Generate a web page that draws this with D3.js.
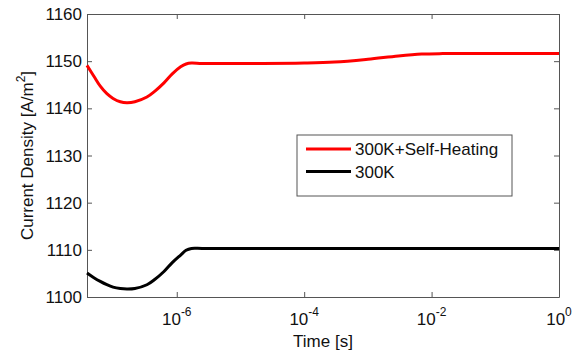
<!DOCTYPE html>
<html>
<head>
<meta charset="utf-8">
<script src="https://cdn.jsdelivr.net/npm/d3@7"></script>
<style>
  body { margin: 0; background: #fff; }
  text { font-family: "Liberation Sans", Arial, sans-serif; fill: #111; }
</style>
</head>
<body>
<div id="chart"></div>
<script>
// ---- data ----
var timeTicks = [1e-6, 1e-4, 1e-2, 1e0];
var tickExponents = ["-6", "-4", "-2", "0"];
var yTicks = [1100, 1110, 1120, 1130, 1140, 1150, 1160];

var seriesNames = ["300K+Self-Heating", "300K"];
var seriesColors = ["#ff0000", "#000000"];

var heatTime = [3.9e-8, 5e-8, 6.3e-8, 8e-8, 1e-7, 1.3e-7, 1.65e-7, 2.2e-7, 3.4e-7, 4.5e-7, 6.3e-7, 8.5e-7, 1.15e-6, 1.4e-6, 1.7e-6, 2.5e-6, 1e-5, 1e-4, 3e-4, 1e-3, 3e-3, 7e-3, 1.5e-2, 1e-1, 1];
var heatJ    = [1149.1, 1146.8, 1144.7, 1143.1, 1142.1, 1141.4, 1141.2, 1141.4, 1142.4, 1143.6, 1145.4, 1147.3, 1148.8, 1149.4, 1149.6, 1149.5, 1149.5, 1149.6, 1149.8, 1150.4, 1151.1, 1151.5, 1151.6, 1151.6, 1151.6];

var coldTime = [3.9e-8, 5e-8, 6.3e-8, 8e-8, 1e-7, 1.3e-7, 1.65e-7, 2.2e-7, 3.4e-7, 4.5e-7, 6.3e-7, 8.5e-7, 1.15e-6, 1.4e-6, 1.7e-6, 2.5e-6, 1e-5, 1e-3, 1];
var coldJ    = [1105.1, 1104.1, 1103.3, 1102.6, 1102.1, 1101.8, 1101.7, 1101.8, 1102.6, 1103.7, 1105.4, 1107.3, 1108.9, 1109.9, 1110.3, 1110.3, 1110.3, 1110.3, 1110.3];

// ---- layout ----
var svgWidth = 581, svgHeight = 352;
var margin = { top: 14, right: 22, bottom: 55, left: 87 };
var plotWidth = svgWidth - margin.left - margin.right;
var plotHeight = svgHeight - margin.top - margin.bottom;
var frameColor = "#555";

var svg = d3.select("#chart").append("svg")
  .attr("width", svgWidth)
  .attr("height", svgHeight);

var chartGroup = svg.append("g")
  .attr("transform", `translate(${margin.left}, ${margin.top})`);

var xScale = d3.scaleLog().domain([3.9e-8, 1]).range([0, plotWidth]);
var yScale = d3.scaleLinear().domain([1100, 1160]).range([plotHeight, 0]);

// frame with inward ticks on all four sides
function drawAxis(axis, transform) {
  var g = chartGroup.append("g").attr("transform", transform).call(axis);
  g.selectAll("path").attr("stroke", frameColor);
  g.selectAll("line").attr("stroke", frameColor);
  g.selectAll("text").remove();
  return g;
}
drawAxis(d3.axisBottom(xScale).tickValues(timeTicks).tickSize(-5).tickSizeOuter(0), `translate(0, ${plotHeight})`);
drawAxis(d3.axisTop(xScale).tickValues(timeTicks).tickSize(-5).tickSizeOuter(0), "translate(0, 0)");
drawAxis(d3.axisLeft(yScale).tickValues(yTicks).tickSize(-5).tickSizeOuter(0), "translate(0, 0)");
drawAxis(d3.axisRight(yScale).tickValues(yTicks).tickSize(-5).tickSizeOuter(0), `translate(${plotWidth}, 0)`);

// y tick labels
chartGroup.selectAll(".ylab")
  .data(yTicks)
  .enter()
  .append("text")
  .attr("x", -5)
  .attr("y", d => yScale(d))
  .attr("dy", "0.36em")
  .attr("text-anchor", "end")
  .style("font-size", "17px")
  .text(d => d);

// x tick labels, 10 with superscript exponent
var xLabels = chartGroup.selectAll(".xlab")
  .data(timeTicks)
  .enter()
  .append("text")
  .attr("x", d => xScale(d))
  .attr("y", plotHeight + 28)
  .attr("text-anchor", "middle")
  .style("font-size", "17px");
xLabels.append("tspan").text("10");
xLabels.append("tspan")
  .attr("dy", -9)
  .style("font-size", "12px")
  .text((d, i) => tickExponents[i]);

// axis titles
chartGroup.append("text")
  .attr("x", plotWidth / 2)
  .attr("y", plotHeight + 50)
  .attr("text-anchor", "middle")
  .style("font-size", "17px")
  .text("Time [s]");

var yTitle = chartGroup.append("text")
  .attr("transform", `translate(${-54}, ${plotHeight / 2}) rotate(-90)`)
  .attr("text-anchor", "middle")
  .style("font-size", "17px");
yTitle.append("tspan").text("Current Density [A/m");
yTitle.append("tspan").attr("dy", -8).style("font-size", "12px").text("2");
yTitle.append("tspan").attr("dy", 8).text("]");

// curves
var line = d3.line()
  .x(d => xScale(d[0]))
  .y(d => yScale(d[1]))
  .curve(d3.curveCatmullRom.alpha(0.5));

var series = [
  d3.zip(heatTime, heatJ),
  d3.zip(coldTime, coldJ)
];

chartGroup.selectAll(".curve")
  .data(series)
  .enter()
  .append("path")
  .attr("d", line)
  .attr("fill", "none")
  .attr("stroke", (d, i) => seriesColors[i])
  .attr("stroke-width", 3);

// legend
var legend = svg.append("g").attr("transform", "translate(297, 135)");
legend.append("rect")
  .attr("width", 215)
  .attr("height", 61)
  .attr("fill", "#fff")
  .attr("stroke", frameColor);
seriesNames.forEach(function(name, i) {
  var yy = 14 + i * 22.5;
  legend.append("line")
    .attr("x1", 9).attr("x2", 54)
    .attr("y1", yy).attr("y2", yy)
    .attr("stroke", seriesColors[i])
    .attr("stroke-width", 3);
  legend.append("text")
    .attr("x", 58)
    .attr("y", yy)
    .attr("dy", "0.36em")
    .style("font-size", "17px")
    .text(name);
});
</script>
</body>
</html>
